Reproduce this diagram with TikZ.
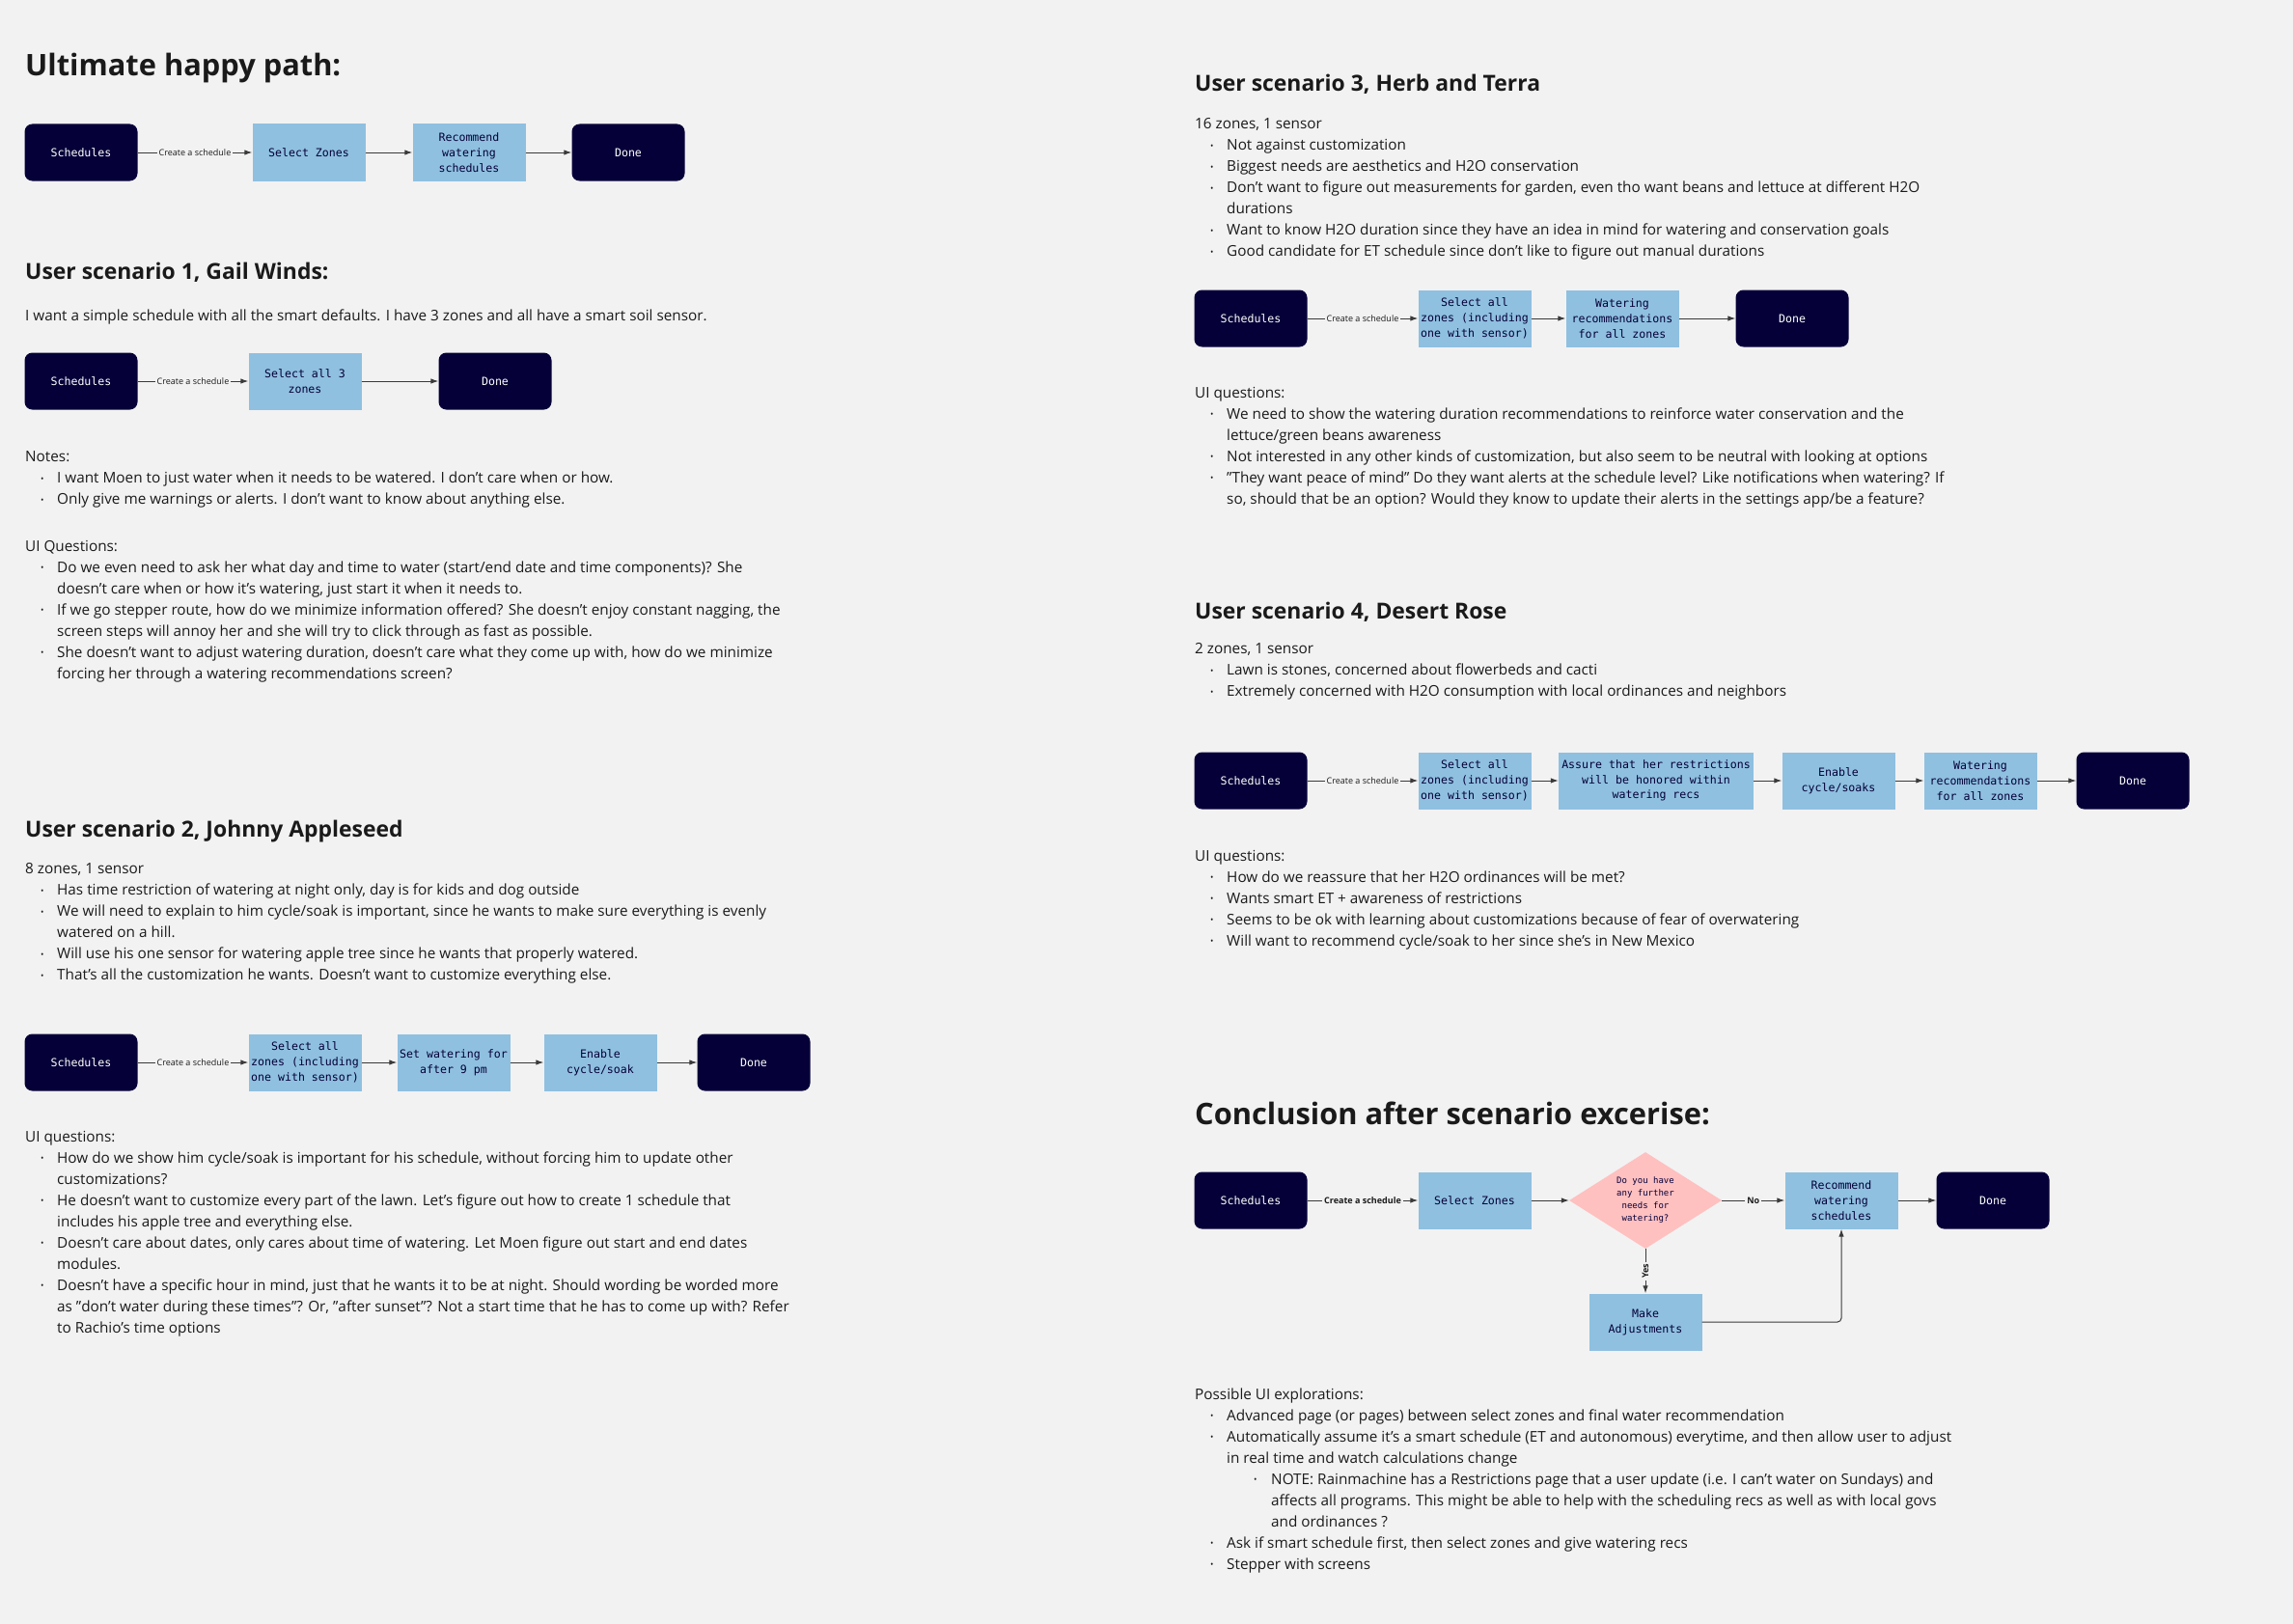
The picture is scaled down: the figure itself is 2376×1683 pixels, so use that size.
\documentclass[tikz,border=0pt]{standalone}
\usepackage{fontspec}
\setmainfont{Open Sans}
\newfontfamily\boxfont{DejaVu Sans Mono}
\usetikzlibrary{arrows.meta,shapes.geometric}

\definecolor{board}{HTML}{F2F2F2}
\definecolor{navy}{HTML}{050038}
\definecolor{skyblue}{HTML}{8FC0E0}
\definecolor{blush}{HTML}{FFC0C0}
\definecolor{ink}{HTML}{1A1A1A}
\definecolor{wire}{HTML}{3A3A3A}

% bullets and hanging lines
\newcommand{\bul}{\hspace*{16pt}\makebox[17pt][l]{\raisebox{1.6pt}{\fontsize{9}{9}\selectfont •}}}
\newcommand{\hang}{\hspace*{33pt}}
\newcommand{\subbul}{\hspace*{61pt}\makebox[18pt][l]{\raisebox{1.6pt}{\fontsize{9}{9}\selectfont •}}}
\newcommand{\subhang}{\hspace*{79pt}}

\begin{document}
\begin{tikzpicture}[x=1pt,y=-1pt,
  every node/.style={text=ink},
  bigtitle/.style={anchor=base west,inner sep=0pt,font=\fontsize{30.8}{36}\selectfont\bfseries},
  heading/.style={anchor=base west,inner sep=0pt,font=\fontsize{22.9}{27}\selectfont\bfseries},
  notes/.style={anchor=north west,yshift=8.4pt,align=left,inner sep=0pt,execute at begin node=\strut,font=\fontsize{15.3}{22}\selectfont},
  navybox/.style={rounded corners=8pt,fill=navy,text=white,minimum width=117pt,minimum height=59pt,font=\boxfont\fontsize{11.6}{15.8}\selectfont},
  zonebox/.style={fill=skyblue,text=navy,minimum width=117pt,minimum height=59pt,align=center,inner sep=1pt,font=\boxfont\fontsize{11.6}{15.8}\selectfont},
  query/.style={diamond,fill=blush,text=navy,minimum width=158pt,minimum height=100pt,aspect=1.58,inner sep=0pt,align=center,font=\boxfont\fontsize{9}{13}\selectfont},
  flow/.style={draw=wire,line width=1pt,-{Latex[length=8pt,width=5.5pt]}},
  edgelbl/.style={fill=board,inner sep=2pt,font=\fontsize{9}{10}\selectfont},
  boldlbl/.style={edgelbl,font=\fontsize{9}{10}\selectfont\bfseries},
]
\fill[board] (0,0) rectangle (2376,1683);
\useasboundingbox (0,0) rectangle (2376,1683);

% ultimate happy path
\node[bigtitle] (happyT) at (26,79) {Ultimate happy path:};
\node[navybox] (hSch) at (84,158) {Schedules};
\node[zonebox] (hSel) at (320,158) {Select Zones};
\node[zonebox] (hRec) at (486,158) {Recommend\\watering\\schedules};
\node[navybox] (hDone) at (651,158) {Done};
\draw[flow] (hSch) -- node[edgelbl]{Create a schedule} (hSel);
\foreach \a/\b in {hSel/hRec,hRec/hDone} \draw[flow] (\a) -- (\b);

% scenario 1
\node[heading] (s1T) at (26,289) {User scenario 1, Gail Winds:};
\node[notes] (s1Intro) at (26,325) {I want a simple schedule with all the smart defaults. I have 3 zones and all have a smart soil sensor.};
\node[navybox] (aSch) at (84,395) {Schedules};
\node[zonebox] (aSel) at (316,395) {Select all 3\\zones};
\node[navybox] (aDone) at (513,395) {Done};
\draw[flow] (aSch) -- node[edgelbl]{Create a schedule} (aSel);
\draw[flow] (aSel) -- (aDone);
\node[notes] (s1Notes) at (26,476) {Notes:\\
  \bul I want Moen to just water when it needs to be watered. I don't care when or how.\\
  \bul Only give me warnings or alerts. I don't want to know about anything else.};
\node[notes] (s1Ui) at (26,568) {UI Questions:\\
  \bul Do we even need to ask her what day and time to water (start/end date and time components)? She\\
  \hang doesn't care when or how it's watering, just start it when it needs to.\\
  \bul If we go stepper route, how do we minimize information offered? She doesn't enjoy constant nagging, the\\
  \hang screen steps will annoy her and she will try to click through as fast as possible.\\
  \bul She doesn't want to adjust watering duration, doesn't care what they come up with, how do we minimize\\
  \hang forcing her through a watering recommendations screen?};

% scenario 2
\node[heading] (s2T) at (26,867) {User scenario 2, Johnny Appleseed};
\node[notes] (s2Info) at (26,903) {8 zones, 1 sensor\\
  \bul Has time restriction of watering at night only, day is for kids and dog outside\\
  \bul We will need to explain to him cycle/soak is important, since he wants to make sure everything is evenly\\
  \hang watered on a hill.\\
  \bul Will use his one sensor for watering apple tree since he wants that properly watered.\\
  \bul That's all the customization he wants. Doesn't want to customize everything else.};
\node[navybox] (bSch) at (84,1101) {Schedules};
\node[zonebox] (bSel) at (316,1101) {Select all\\zones (including\\one with sensor)};
\node[zonebox] (bNight) at (470,1101) {Set watering for\\after 9 pm};
\node[zonebox] (bSoak) at (622,1101) {Enable\\cycle/soak};
\node[navybox] (bDone) at (781,1101) {Done};
\draw[flow] (bSch) -- node[edgelbl]{Create a schedule} (bSel);
\foreach \a/\b in {bSel/bNight,bNight/bSoak,bSoak/bDone} \draw[flow] (\a) -- (\b);
\node[notes] (s2Ui) at (26,1180) {UI questions:\\
  \bul How do we show him cycle/soak is important for his schedule, without forcing him to update other\\
  \hang customizations?\\
  \bul He doesn't want to customize every part of the lawn. Let's figure out how to create 1 schedule that\\
  \hang includes his apple tree and everything else.\\
  \bul Doesn't care about dates, only cares about time of watering. Let Moen figure out start and end dates\\
  \hang modules.\\
  \bul Doesn't have a specific hour in mind, just that he wants it to be at night. Should wording be worded more\\
  \hang as "don't water during these times"? Or, "after sunset"? Not a start time that he has to come up with? Refer\\
  \hang to Rachio's time options};

% scenario 3
\node[heading] (s3T) at (1238,95) {User scenario 3, Herb and Terra};
\node[notes] (s3Info) at (1238,131) {16 zones, 1 sensor\\
  \bul Not against customization\\
  \bul Biggest needs are aesthetics and H2O conservation\\
  \bul Don't want to figure out measurements for garden, even tho want beans and lettuce at different H2O\\
  \hang durations\\
  \bul Want to know H2O duration since they have an idea in mind for watering and conservation goals\\
  \bul Good candidate for ET schedule since don't like to figure out manual durations};
\node[navybox] (cSch) at (1296,330) {Schedules};
\node[zonebox] (cSel) at (1528,330) {Select all\\zones (including\\one with sensor)};
\node[zonebox] (cRec) at (1681,330) {Watering\\recommendations\\for all zones};
\node[navybox] (cDone) at (1857,330) {Done};
\draw[flow] (cSch) -- node[edgelbl]{Create a schedule} (cSel);
\foreach \a/\b in {cSel/cRec,cRec/cDone} \draw[flow] (\a) -- (\b);
\node[notes] (s3Ui) at (1238,409) {UI questions:\\
  \bul We need to show the watering duration recommendations to reinforce water conservation and the\\
  \hang lettuce/green beans awareness\\
  \bul Not interested in any other kinds of customization, but also seem to be neutral with looking at options\\
  \bul "They want peace of mind" Do they want alerts at the schedule level? Like notifications when watering? If\\
  \hang so, should that be an option? Would they know to update their alerts in the settings app/be a feature?};

% scenario 4
\node[heading] (s4T) at (1238,641) {User scenario 4, Desert Rose};
\node[notes] (s4Info) at (1238,675) {2 zones, 1 sensor\\
  \bul Lawn is stones, concerned about flowerbeds and cacti\\
  \bul Extremely concerned with H2O consumption with local ordinances and neighbors};
\node[navybox] (dSch) at (1296,809) {Schedules};
\node[zonebox] (dSel) at (1528,809) {Select all\\zones (including\\one with sensor)};
\node[zonebox,minimum width=202pt] (dRule) at (1716,809) {Assure that her restrictions\\will be honored within\\watering recs};
\node[zonebox] (dSoak) at (1905,809) {Enable\\cycle/soaks};
\node[zonebox] (dRec) at (2052,809) {Watering\\recommendations\\for all zones};
\node[navybox] (dDone) at (2210,809) {Done};
\draw[flow] (dSch) -- node[edgelbl]{Create a schedule} (dSel);
\foreach \a/\b in {dSel/dRule,dRule/dSoak,dSoak/dRec,dRec/dDone} \draw[flow] (\a) -- (\b);
\node[notes] (s4Ui) at (1238,889) {UI questions:\\
  \bul How do we reassure that her H2O ordinances will be met?\\
  \bul Wants smart ET + awareness of restrictions\\
  \bul Seems to be ok with learning about customizations because of fear of overwatering\\
  \bul Will want to recommend cycle/soak to her since she's in New Mexico};

% conclusion
\node[bigtitle] (endT) at (1238,1165) {Conclusion after scenario excerise:};
\node[navybox] (eSch) at (1296,1244) {Schedules};
\node[zonebox] (eSel) at (1528,1244) {Select Zones};
\node[query] (eAsk) at (1705,1244) {Do you have\\any further\\needs for\\watering?};
\node[zonebox] (eRec) at (1908,1244) {Recommend\\watering\\schedules};
\node[navybox] (eDone) at (2065,1244) {Done};
\node[zonebox] (eAdj) at (1705,1370) {Make\\Adjustments};
\draw[flow] (eSch) -- node[boldlbl]{Create a schedule} (eSel);
\draw[flow] (eSel) -- (eAsk);
\draw[flow] (eAsk) -- node[boldlbl]{No} (eRec);
\draw[flow] (eRec) -- (eDone);
\draw[flow] (eAsk) -- node[boldlbl,rotate=90]{Yes} (eAdj);
\draw[flow,rounded corners=4pt] (eAdj.east) -| (eRec.south);
\node[notes] (endUi) at (1238,1447) {Possible UI explorations:\\
  \bul Advanced page (or pages) between select zones and final water recommendation\\
  \bul Automatically assume it's a smart schedule (ET and autonomous) everytime, and then allow user to adjust\\
  \hang in real time and watch calculations change\\
  \subbul NOTE: Rainmachine has a Restrictions page that a user update (i.e. I can't water on Sundays) and\\
  \subhang affects all programs. This might be able to help with the scheduling recs as well as with local govs\\
  \subhang and ordinances ?\\
  \bul Ask if smart schedule first, then select zones and give watering recs\\
  \bul Stepper with screens};
\end{tikzpicture}
\end{document}
